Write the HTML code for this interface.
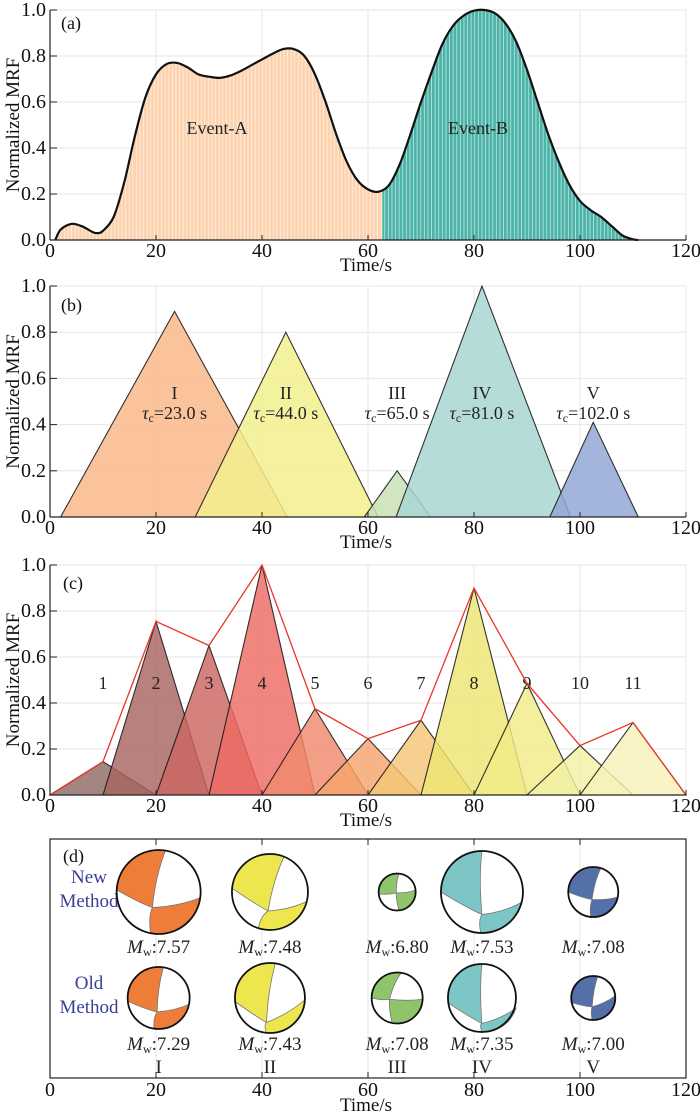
<!DOCTYPE html>
<html><head><meta charset="utf-8"><style>
body{margin:0;background:#fff}
svg{display:block;font-family:"Liberation Serif",serif}
</style></head><body>
<svg id="chart" width="700" height="1117" viewBox="0 0 700 1117" xmlns="http://www.w3.org/2000/svg">
<defs>
<pattern id="stripes" patternUnits="userSpaceOnUse" width="3.6" height="10"><rect x="2.7" y="0" width="0.9" height="10" fill="#fff" opacity="0.6"/></pattern>
</defs>
</svg>
<script>
// ---- Panel (a) data ----
const aTimes=[1,2,4,6,8,9,10,12,14,16,18,20,22,24,26,28,30,32,34,36,38,40,42,44,46,48,50,52,54,56,58,60,62,64,66,68,70,72,74,76,78,80,82,84,86,88,90,92,94,96,98,100,102,104,106,108,110,111];
const aValues=[0,0.045,0.07,0.06,0.035,0.03,0.04,0.1,0.25,0.45,0.62,0.72,0.765,0.77,0.75,0.72,0.71,0.705,0.715,0.735,0.76,0.785,0.81,0.83,0.83,0.8,0.72,0.6,0.46,0.34,0.26,0.22,0.21,0.24,0.33,0.46,0.6,0.73,0.85,0.93,0.975,0.997,1.0,0.985,0.94,0.86,0.74,0.6,0.46,0.34,0.24,0.17,0.13,0.1,0.06,0.02,0.003,0];
const aSplit=62.7;
// ---- Panel (b) data ----
const bNames=["I","II","III","IV","V"];
const bStart=[2,27.4,59.3,65.3,94.3];
const bPeak=[23.5,44.5,65.5,81.5,102.5];
const bEnd=[44.8,61.9,71.8,98.2,111];
const bHeight=[0.89,0.8,0.2,1.0,0.41];
const bLabels=["23.0","44.0","65.0","81.0","102.0"];
const bColors=["#f9b98a","#f2ee8e","#c9e0b6","#a9d6d3","#93a8d6"];
// ---- Panel (c) data ----
const cCenters=[10,20,30,40,50,60,70,80,90,100,110];
const cHeights=[0.145,0.755,0.65,1.0,0.375,0.245,0.325,0.9,0.485,0.215,0.315];
const cHalfWidth=10;
const cColors=["#8f6a66","#a86560","#cc6560","#ee6a64","#f08a6c","#f5a46c","#f5c677","#ede573","#f0ec88","#f3f0a6","#f6f2b8"];
// ---- Panel (d) data ----
const dEvents=["I","II","III","IV","V"];
const dTimes=[20.5,41.5,65.5,81.5,102.5];
const dNewMw=["7.57","7.48","6.80","7.53","7.08"];
const dOldMw=["7.29","7.43","7.08","7.35","7.00"];
const dNewR=[42,38,18.5,41,25];
const dOldR=[31,35,25.5,34,22];
const dColors=["#ef7d3a","#ede64e","#8fc46b","#7cc7c5","#5470a8"];
const xTicks=[0,20,40,60,80,100,120];
const yTicks=[0,0.2,0.4,0.6,0.8,1.0];

const NS="http://www.w3.org/2000/svg";
const svg=document.getElementById('chart');
const FT=20, FL=18;
function el(tag,attrs,parent,text){const e=document.createElementNS(NS,tag);for(const k in attrs)e.setAttribute(k,attrs[k]);if(text!==undefined)e.textContent=text;(parent||svg).appendChild(e);return e;}
const X=t=>50+t*5.3;
function mkY(y0,h){return v=>y0-h*v;}
const Ya=mkY(240,230),Yb=mkY(517,231),Yc=mkY(795,230);

function axes(Y,y0,name){
  const g=el('g',{});
  
  
  xTicks.forEach(t=>{ if(t>0){const l=el('line',{x1:X(t),x2:X(t),y1:Y(1),y2:y0,stroke:'#e6e6e6','stroke-width':1},g);}});
  yTicks.forEach(v=>{ if(v>0){const l=el('line',{x1:50,x2:686,y1:Y(v),y2:Y(v),stroke:'#e6e6e6','stroke-width':1},g);}});
  return g;
}
function axesTop(Y,y0,name){
  const g=el('g',{});
  
  
  el('line',{x1:50,x2:50,y1:Y(1),y2:y0,stroke:'#222','stroke-width':1.2},g);
  el('line',{x1:50,x2:686,y1:y0,y2:y0,stroke:'#222','stroke-width':1.2},g);
  xTicks.forEach(t=>{el('line',{x1:X(t),x2:X(t),y1:y0,y2:y0-5,stroke:'#222'},g);
    const tl=el('text',{x:X(t),y:y0+17,'text-anchor':'middle','font-size':FT,fill:'#111'},g,String(t));
    });
  yTicks.forEach(v=>{el('line',{x1:50,x2:57,y1:Y(v),y2:Y(v),stroke:'#222'},g);
    const tl=el('text',{x:46,y:Y(v)+6,'text-anchor':'end','font-size':FT,fill:'#111'},g,v.toFixed(1));
    });
  const xt=el('text',{x:366,y:y0+31,'text-anchor':'middle','font-size':19,fill:'#111'},g,'Time/s');
  
  const yc=(Y(1)+y0)/2;
  const yt=el('text',{x:19,y:yc,'text-anchor':'middle','font-size':19,fill:'#111',transform:`rotate(-90 19 ${yc})`},g,'Normalized MRF');
  
}

// ---- Panel a ----
axes(Ya,240,'panel-a');
function areaPath(filter){
  const pts=[];aTimes.forEach((t,i)=>{if(filter(t))pts.push([X(t),Ya(aValues[i])]);});
  return pts;
}
function interp(t){for(let i=1;i<aTimes.length;i++){if(aTimes[i]>=t){const f=(t-aTimes[i-1])/(aTimes[i]-aTimes[i-1]);return aValues[i-1]+f*(aValues[i]-aValues[i-1]);}}return 0;}
function smoothD(pts){let d='M'+pts[0][0]+','+pts[0][1];for(let i=0;i<pts.length-1;i++){const p0=pts[i-1]||pts[i],p1=pts[i],p2=pts[i+1],p3=pts[i+2]||p2;d+=` C${p1[0]+(p2[0]-p0[0])/6},${p1[1]+(p2[1]-p0[1])/6} ${p2[0]-(p3[0]-p1[0])/6},${p2[1]-(p3[1]-p1[1])/6} ${p2[0]},${p2[1]}`;}return d;}
let ptsA=areaPath(t=>t<aSplit);ptsA.push([X(aSplit),Ya(interp(aSplit))]);
let ptsB=[[X(aSplit),Ya(interp(aSplit))]].concat(areaPath(t=>t>aSplit));
[[ptsA,'#fdd2ae','event-a-area'],[ptsB,'#4bb3a8','event-b-area']].forEach(([p,c,n])=>{
  const d=smoothD(p)+` L${p[p.length-1][0]},240 L${p[0][0]},240 Z`;
  const a=el('path',{d:d,fill:c});
  const s=el('path',{d:d,fill:'url(#stripes)'});
});
const allPts=aTimes.map((t,i)=>[X(t),Ya(aValues[i])]);
const curve=el('path',{d:smoothD(allPts),fill:'none',stroke:'#111','stroke-width':2.2});

axesTop(Ya,240,'panel-a');
let t1=el('text',{x:217,y:134,'text-anchor':'middle','font-size':FL,fill:'#222'},svg,'Event-A');
let t2=el('text',{x:478,y:134,'text-anchor':'middle','font-size':FL,fill:'#222'},svg,'Event-B');
let pa=el('text',{x:61,y:29,'font-size':FL,fill:'#111'},svg,'(a)');

// ---- Panel b ----
axes(Yb,517,'panel-b');
bNames.forEach((n,i)=>{
  const d=`M${X(bStart[i])},517 L${X(bPeak[i])},${Yb(bHeight[i])} L${X(bEnd[i])},517 Z`;
  const p=el('path',{d:d,fill:bColors[i],'fill-opacity':0.85,stroke:'#111','stroke-width':1.1,'stroke-opacity':0.85});
  
  const l=el('text',{x:X(bPeak[i]),y:399,'text-anchor':'middle','font-size':FL,fill:'#222'},svg,n);
  
  const tc=el('text',{x:X(bPeak[i]),y:419,'text-anchor':'middle','font-size':FL,fill:'#222'},svg);
  
  el('tspan',{'font-style':'italic'},tc,'τ');el('tspan',{'font-size':12,dy:3},tc,'c');el('tspan',{dy:-3},tc,'='+bLabels[i]+' s');
});
axesTop(Yb,517,'panel-b');
let pb=el('text',{x:61,y:311,'font-size':FL,fill:'#111'},svg,'(b)');

// ---- Panel c ----
axes(Yc,795,'panel-c');
cCenters.forEach((c,i)=>{
  const d=`M${X(c-cHalfWidth)},795 L${X(c)},${Yc(cHeights[i])} L${X(c+cHalfWidth)},795 Z`;
  const p=el('path',{d:d,fill:cColors[i],'fill-opacity':0.82,stroke:'#111','stroke-width':1.1,'stroke-opacity':0.85});
  
  const l=el('text',{x:X(c),y:689,'text-anchor':'middle','font-size':FL,fill:'#222'},svg,String(i+1));
  
});
let env='M'+X(0)+','+Yc(0);cCenters.forEach((c,i)=>{env+=` L${X(c)},${Yc(cHeights[i])}`;});env+=` L${X(120)},${Yc(0)}`;
const ep=el('path',{d:env,fill:'none',stroke:'#e8362a','stroke-width':1.3});
axesTop(Yc,795,'panel-c');
let pc=el('text',{x:63,y:589,'font-size':FL,fill:'#111'},svg,'(c)');

// ---- Panel d ----
const gd=el('g',{});
xTicks.forEach(t=>{if(t>0&&t<120){el('line',{x1:X(t),x2:X(t),y1:839,y2:1078,stroke:'#e6e6e6'},gd);
  el('line',{x1:X(t),x2:X(t),y1:839,y2:845,stroke:'#222'},gd);el('line',{x1:X(t),x2:X(t),y1:1078,y2:1072,stroke:'#222'},gd);}
  const tl=el('text',{x:X(t),y:1096,'text-anchor':'middle','font-size':FT,fill:'#111'},gd,String(t));});
el('rect',{x:50,y:839,width:636,height:239,fill:'none',stroke:'#222','stroke-width':1.2},gd);
let xtd=el('text',{x:366,y:1111,'text-anchor':'middle','font-size':19,fill:'#111'},gd,'Time/s');
let pd=el('text',{x:63,y:862,'font-size':FL,fill:'#111'},svg,'(d)');
[['New',883],['Method',907],['Old',989],['Method',1013]].forEach(([s,y])=>{const t=el('text',{x:89,y:y,'text-anchor':'middle','font-size':19,fill:'#3a3f95'},svg,s);});
const newGeo=[[[0.16,-0.98],[-1,-0.05],[-0.15,0.37],[0.98,0.14],[-0.19,0.98]],[[0.37,-0.93],[-1,-0.1],[-0.05,0.5],[0.97,0.25],[-0.3,0.95]],[[0.1,-1],[-1,0.1],[-0.05,0.05],[1,-0.1],[0.1,1]],[[0,-1],[-1,0],[0,0.55],[0.97,0.25],[-0.03,1]],[[0.3,-0.95],[-1,0],[-0.05,0.3],[0.97,0.2],[-0.1,1]]];
const oldGeo=[[[0.15,-0.98],[-1,0.1],[-0.05,0.45],[0.98,0.2],[-0.15,0.98]],[[0.15,-0.98],[-1,0.1],[-0.1,0.7],[1,0.05],[-0.1,1]],[[0.15,-0.98],[-1,0],[-0.3,0.05],[1,0.05],[-0.2,0.97]],[[0,-1],[-0.99,0.15],[0,0.75],[1,0.3],[0,1]],[[0.2,-0.98],[-1,0.2],[-0.05,0.4],[1,-0.1],[-0.05,1]]];
function ball(cx,cy,r,geo,color,name){
  const g=el('g',{});
  const P=p=>[cx+p[0]*r,cy+p[1]*r];
  const [tp,lp,cp,rp,bp]=geo.map(P);
  const mid=(a,b,k)=>[(a[0]+b[0])/2+k*r*0.08,(a[1]+b[1])/2+k*r*0.08];
  el('circle',{cx:cx,cy:cy,r:r,fill:'#fff'},g);
  el('path',{d:`M${tp} Q${mid(tp,cp,-1)} ${cp} Q${mid(cp,lp,1)} ${lp} A${r},${r} 0 0 1 ${tp} Z`,fill:color,stroke:'#777','stroke-width':0.8},g);
  el('path',{d:`M${bp} Q${mid(bp,cp,-1)} ${cp} Q${mid(cp,rp,1)} ${rp} A${r},${r} 0 0 1 ${bp} Z`,fill:color,stroke:'#777','stroke-width':0.8},g);
  el('circle',{cx:cx,cy:cy,r:r,fill:'none',stroke:'#111','stroke-width':1.8},g);
}
function mw(x,y,v){const t=el('text',{x:x,y:y,'text-anchor':'middle','font-size':19,fill:'#222'},svg);
  el('tspan',{'font-style':'italic'},t,'M');el('tspan',{'font-size':12,dy:3},t,'w');el('tspan',{dy:-3},t,':'+v);}
dEvents.forEach((e,i)=>{
  const cx=X(dTimes[i]);
  ball(cx,892,dNewR[i],newGeo[i],dColors[i],'beachball-new-'+e);
  ball(cx,998,dOldR[i],oldGeo[i],dColors[i],'beachball-old-'+e);
  mw(cx,953,dNewMw[i]);mw(cx,1050,dOldMw[i]);
  const r=el('text',{x:cx,y:1073,'text-anchor':'middle','font-size':19,fill:'#222'},svg,e);
});
</script>
</body></html>
